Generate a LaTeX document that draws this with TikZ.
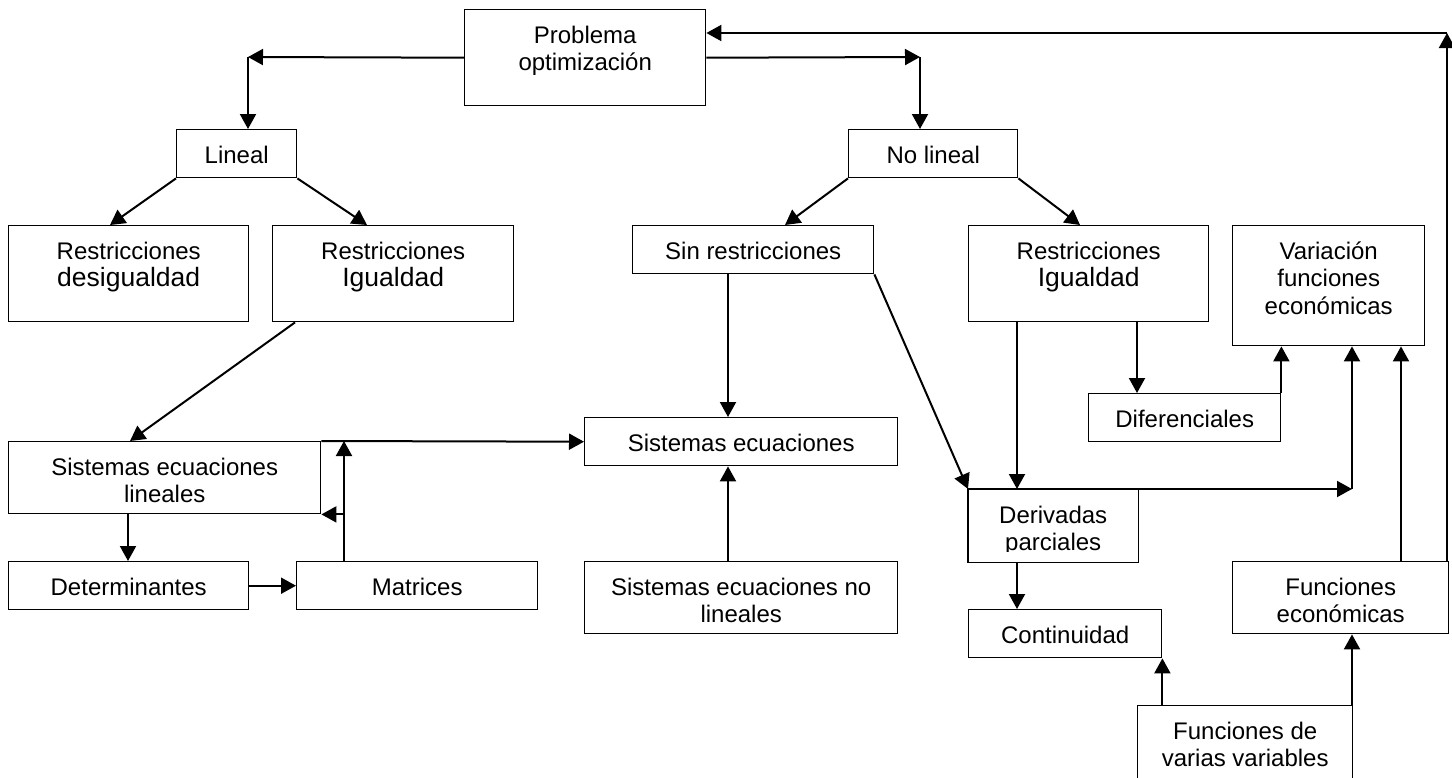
\documentclass[tikz,border=0pt]{standalone}
\usepackage{fontspec}
\setmainfont{Liberation Sans}
\usetikzlibrary{arrows.meta,calc}
\tikzset{
  box/.style={draw, line width=1.4pt, inner sep=0pt, anchor=north west, fill=white},
  arr/.style={line width=2pt, -{Triangle[length=15pt,width=16pt]}}
}
\newcommand\bx[7][]{\node[box,#1] (#2) at (#3,#4) {\parbox[c][#6pt][t]{#5pt}{\centering\rule{0pt}{33.5pt}#7\par}};}
\newcommand\bigtxt[1]{{\fontsize{26.5}{29}\selectfont #1}}
\begin{document}
\begin{tikzpicture}[x=1pt,y=-1pt,font=\fontsize{24}{27.5}\selectfont]
\fill[white] (0,0) rectangle (1452,777);
\useasboundingbox (0,0) rectangle (1452,777);
% boxes
\bx{P}{464}{9}{241}{96}{Problema\\optimización}
\bx{Lin}{176}{129}{120}{48}{Lineal}
\bx{NL}{848}{129}{169}{48}{No lineal}
\bx{RD}{8}{225}{240}{96}{Restricciones\\\bigtxt{desigualdad}}
\bx{RI1}{272}{225}{241}{96}{Restricciones\\\bigtxt{Igualdad}}
\bx{SR}{632}{225}{241}{48}{Sin restricciones}
\bx{RI2}{968}{225}{240}{96}{Restricciones\\\bigtxt{Igualdad}}
\bx{VF}{1232}{225}{192}{120}{Variación\\funciones\\económicas}
\bx{SEL}{8}{441}{312}{72}{Sistemas ecuaciones\\lineales}
\bx{Det}{8}{561}{240}{48}{Determinantes}
\bx{Mat}{296}{561}{241}{48}{Matrices}
\bx{SE}{584}{417}{313}{48}{Sistemas ecuaciones}
\bx{SENL}{584}{561}{313}{72}{Sistemas ecuaciones no\\lineales}
\bx[draw=none]{DP}{968}{489}{169}{72}{Derivadas\\parciales}
\bx{Dif}{1088}{393}{192}{48}{Diferenciales}
\bx{Con}{968}{609}{193}{48}{Continuidad}
\bx{FE}{1232}{561}{216}{72}{Funciones\\económicas}
\bx{FVV}{1137}{705}{215}{76}{Funciones de\\varias variables}
% text of "Derivadas parciales" is cut at its baseline in the original
\fill[white] ($(DP.south west)+(0,-0.5)$) rectangle ($(DP.south east)+(0,-10.5)$);
\draw[line width=1.4pt] (DP.south west) rectangle (DP.north east);
% bend points
\coordinate (cL) at (248,57);
\coordinate (cN) at (920,57);
\coordinate (cF) at (1447,33);
\coordinate (cD) at (1352,489);
% connectors
\draw[arr] (P.west) -- (cL);
\draw[arr] (cL) -- (cL |- Lin.north);
\draw[arr] (P.east) -- (cN);
\draw[arr] (cN) -- (cN |- NL.north);
\draw[arr] (FE.north -| cF) -- (cF);
\draw[arr] (cF) -- (P.east |- cF);
\draw[arr] (Lin.south west) -- (RD.north -| 110,0);
\draw[arr] (Lin.south east) -- (RI1.north -| 367,0);
\draw[arr] (RI1.south -| 295,0) -- (SEL.north -| 130,0);
\draw[arr] (SEL.south -| 128,0) -- (Det.north -| 128,0);
\draw[arr] (Det.east) -- (Mat.west);
\draw[arr] (Mat.north -| 344,0) -- (SEL.north -| 344,0);
\draw[arr] (SEL.south east -| 344,0) -- (SEL.south east);
\draw[arr] (SEL.north east) -- (SE.west);
\draw[arr] (SR.south -| 728,0) -- (SE.north -| 728,0);
\draw[arr] (SENL.north -| 728,0) -- (SE.south -| 728,0);
\draw[arr] (SR.south east) -- (DP.north west);
\draw[arr] (NL.south west) -- (SR.north -| 785,0);
\draw[arr] (NL.south east) -- (RI2.north -| 1080,0);
\draw[arr] (RI2.south -| 1017,0) -- (DP.north -| 1017,0);
\draw[arr] (RI2.south -| 1137,0) -- (Dif.north -| 1137,0);
\draw[arr] (Dif.north east) -- (VF.south -| Dif.north east);
\draw[arr] (DP.north east) -- (cD);
\draw[arr] (cD) -- (VF.south -| cD);
\draw[arr] (FE.north -| 1401,0) -- (VF.south -| 1401,0);
\draw[arr] (DP.south -| 1017,0) -- (Con.north -| 1017,0);
\draw[arr] (FVV.north -| Con.south east) -- (Con.south east);
\draw[arr] (FVV.north -| cD) -- (FE.south -| cD);
\end{tikzpicture}
\end{document}
